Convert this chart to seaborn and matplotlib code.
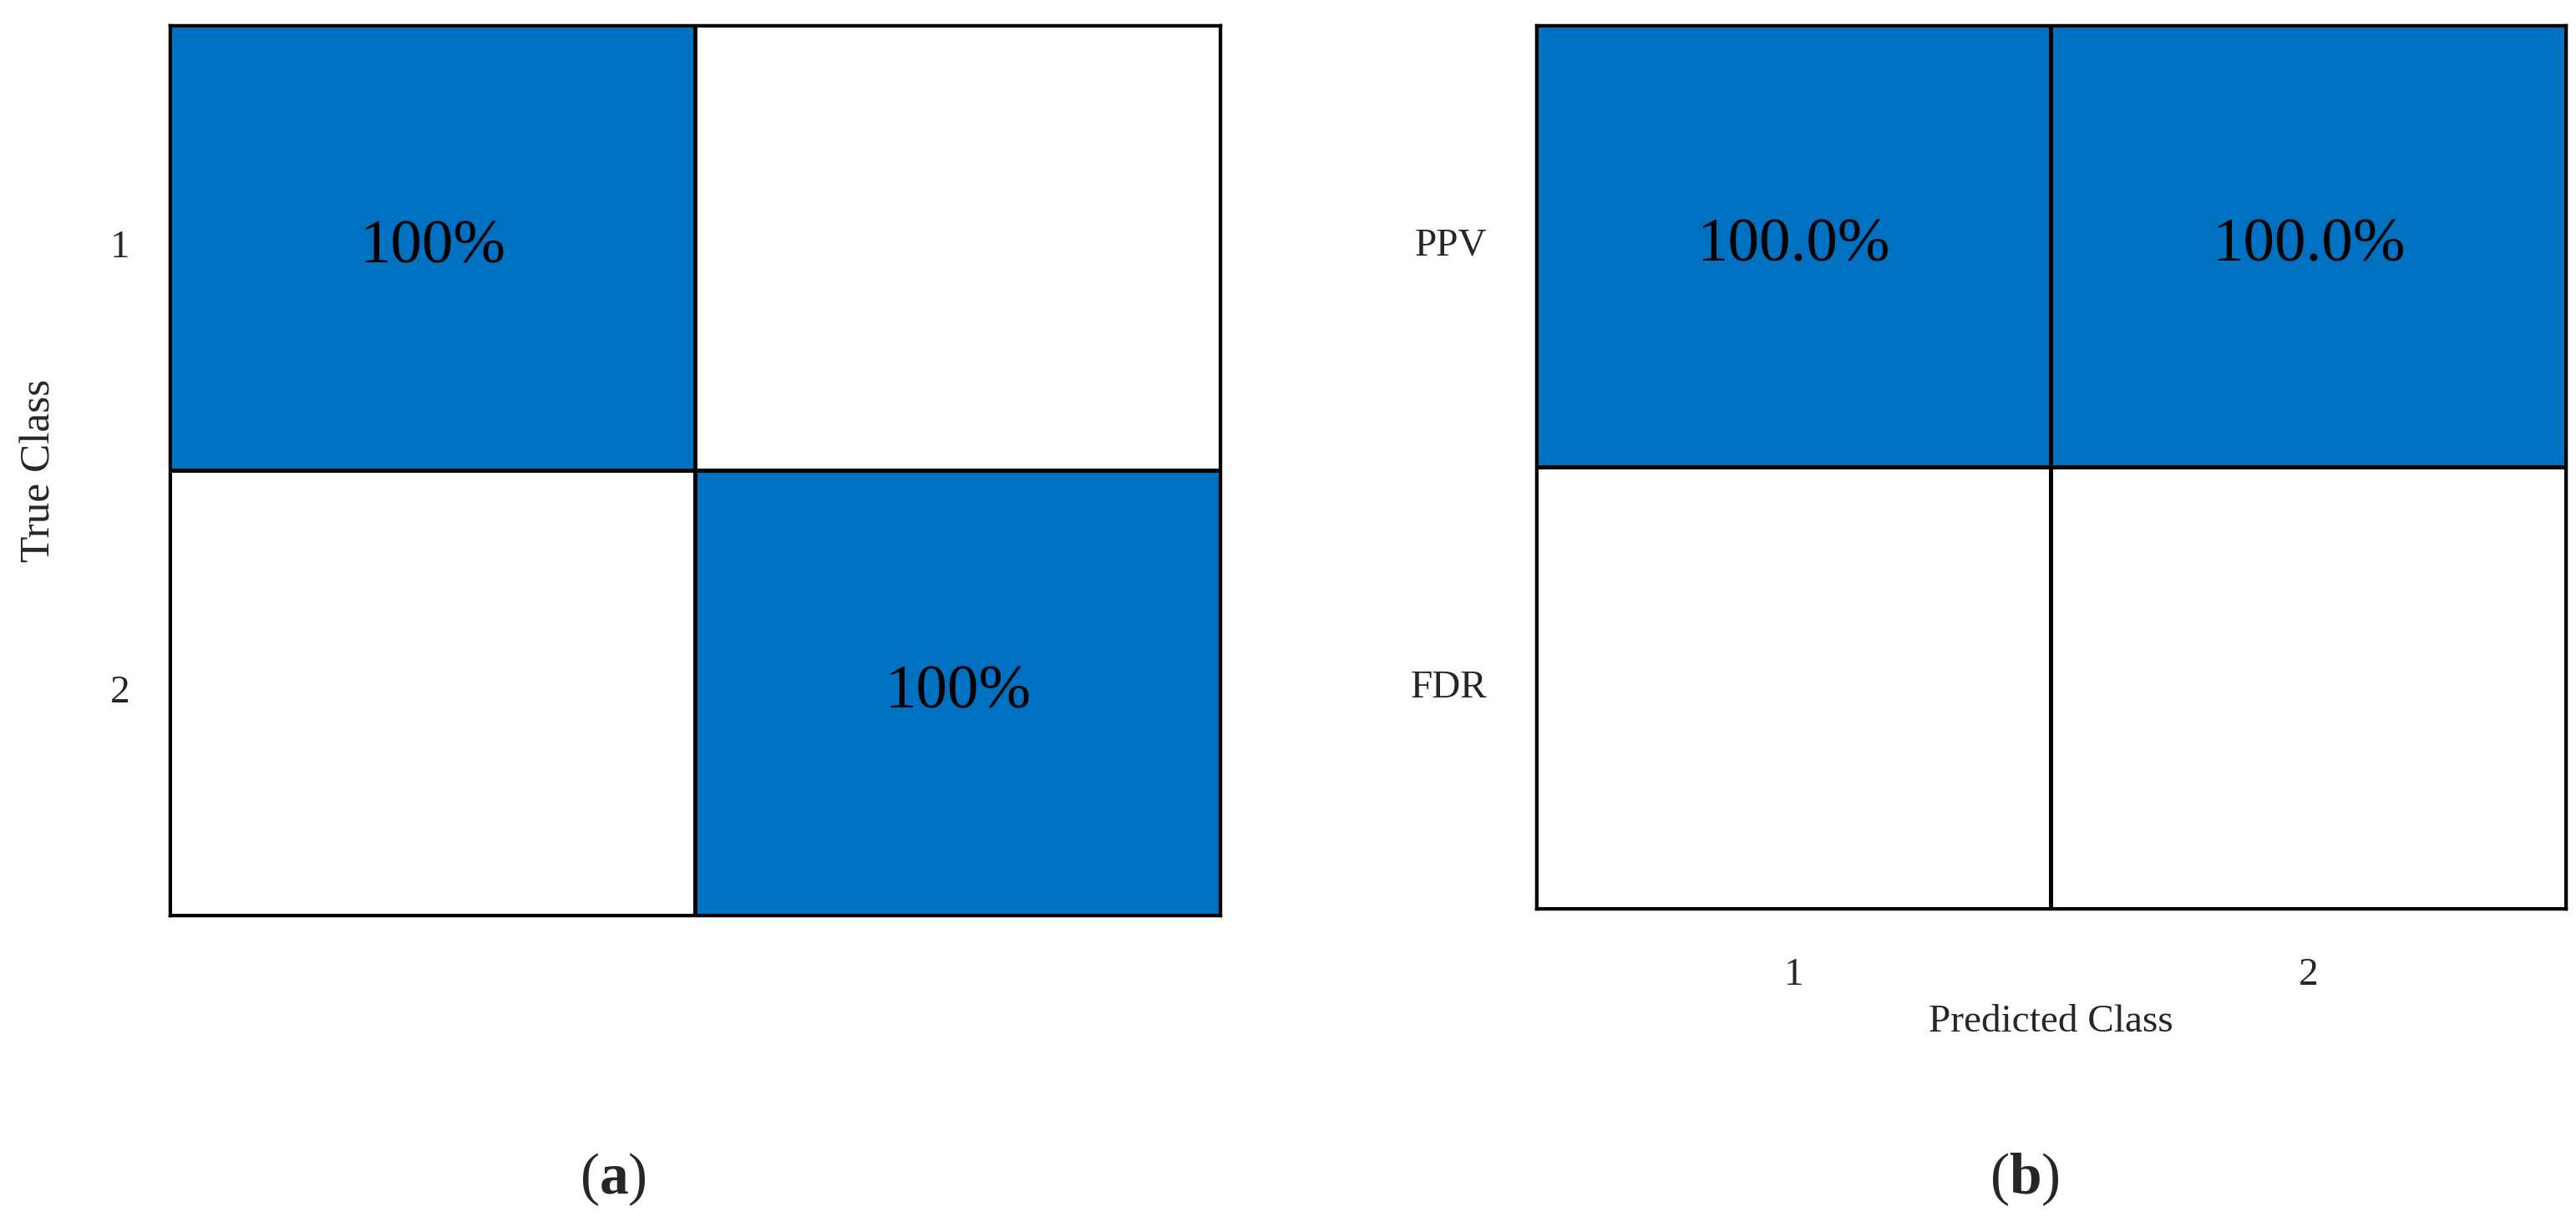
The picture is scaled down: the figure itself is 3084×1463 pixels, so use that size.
import numpy as np
import pandas as pd
import seaborn as sns
import matplotlib.pyplot as plt
from matplotlib.colors import ListedColormap

# confusion matrix (a), in percent
classes = ['1', '2']
cm_values = [[100, 0],
             [0, 100]]
cm_labels = [['100%', ''],
             ['', '100%']]

# positive predictive value / false discovery rate (b)
rate_rows = ['PPV', 'FDR']
rate_values = [[100.0, 100.0],
               [0.0, 0.0]]
rate_labels = [['100.0%', '100.0%'],
               ['', '']]

sns.set_style("white")
plt.rcParams['font.family'] = ['Liberation Serif', 'DejaVu Serif']
plt.rcParams['mathtext.fontset'] = 'custom'
plt.rcParams['mathtext.rm'] = 'Liberation Serif'
plt.rcParams['mathtext.bf'] = 'Liberation Serif:bold'

blue = '#0070C0'
cmap = ListedColormap(['white', blue])

fig = plt.figure(figsize=(30.84, 14.63), dpi=100)
ax1 = fig.add_axes([0.0658, 0.2509, 0.408, 0.7286])
ax2 = fig.add_axes([0.5963, 0.2563, 0.3998, 0.7232])

df1 = pd.DataFrame(cm_values, index=classes, columns=classes)
sns.heatmap(df1, ax=ax1, cmap=cmap, vmin=0, vmax=100, cbar=False,
            annot=np.array(cm_labels), fmt='', linewidths=2.5, linecolor='black',
            annot_kws={'fontsize': 54, 'color': 'black'})
ax1.set_xticks([])
ax1.set_ylabel('True Class', fontsize=37, labelpad=44)
ax1.set_xlabel('')
ax1.tick_params(axis='y', length=0, pad=34, labelsize=34, rotation=0)

df2 = pd.DataFrame(rate_values, index=rate_rows, columns=classes)
sns.heatmap(df2, ax=ax2, cmap=cmap, vmin=0, vmax=100, cbar=False,
            annot=np.array(rate_labels), fmt='', linewidths=2.5, linecolor='black',
            annot_kws={'fontsize': 54, 'color': 'black'})
ax2.set_ylabel('')
ax2.set_xlabel('Predicted Class', fontsize=34, labelpad=10)
ax2.tick_params(axis='both', length=0, labelsize=34)
ax2.tick_params(axis='y', pad=42, rotation=0)
ax2.tick_params(axis='x', pad=42)

for ax in (ax1, ax2):
    for s in ax.spines.values():
        s.set_visible(True)
        s.set_color('black')
        s.set_linewidth(2.5)

fig.text(0.238, 0.035, '($\\mathbf{a}$)', fontsize=50, ha='center', va='center')
fig.text(0.786, 0.035, '($\\mathbf{b}$)', fontsize=50, ha='center', va='center')

fig.savefig('out.png', dpi=100)
